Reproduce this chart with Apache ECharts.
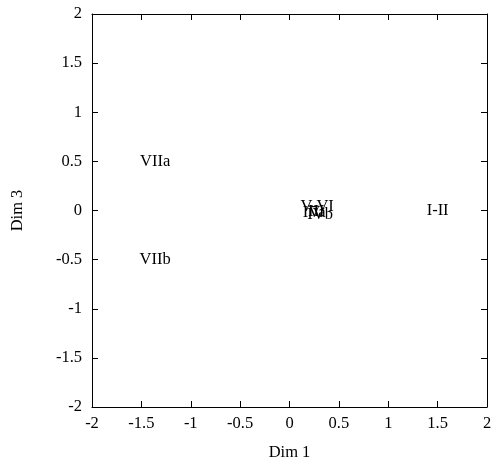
<!DOCTYPE html>
<html><head><meta charset="utf-8">
<script src="https://cdn.jsdelivr.net/npm/echarts@6/dist/echarts.min.js"></script>
<style>html,body{margin:0;padding:0;background:#fff}#c{width:492px;height:462px}</style>
</head><body><div id="c"></div>
<script>
const labels = ['VIIa', 'VIIb', 'I-II', 'V-VI', 'IVa', 'IVb', 'III'];
const dim1 = [-1.36, -1.36, 1.5, 0.28, 0.25, 0.31, 0.27];
const dim3 = [0.5, -0.5, 0, 0.04, -0.02, -0.04, -0.01];
const ticks = [-2, -1.5, -1, -0.5, 0, 0.5, 1, 1.5, 2];

const font = 'Liberation Serif';
const fs = 16.5;
const chart = echarts.init(document.getElementById('c'));
const axisCommon = {
  type: 'value', min: ticks[0], max: ticks[ticks.length - 1], interval: 0.5,
  axisLine: { show: true, onZero: false, lineStyle: { color: '#000', width: 1 } },
  axisTick: { show: true, inside: true, length: 6, lineStyle: { color: '#000' } },
  splitLine: { show: false },
  nameTextStyle: { color: '#000', fontFamily: font, fontSize: fs }
};
chart.setOption({
  animation: false,
  grid: { left: 92, right: 5, top: 14, bottom: 55, containLabel: false, outerBoundsMode: 'none' },
  xAxis: [
    Object.assign({}, axisCommon, {
      position: 'bottom', name: 'Dim 1', nameLocation: 'middle', nameGap: 37,
      axisLabel: { color: '#000', fontFamily: font, fontSize: fs, margin: 8 }
    }),
    Object.assign({}, axisCommon, { position: 'top', axisLabel: { show: false } })
  ],
  yAxis: [
    Object.assign({}, axisCommon, {
      position: 'left', name: 'Dim 3', nameLocation: 'middle', nameGap: 66,
      axisLabel: { color: '#000', fontFamily: font, fontSize: fs, margin: 10 }
    }),
    Object.assign({}, axisCommon, { position: 'right', axisLabel: { show: false } })
  ],
  series: [{
    type: 'scatter', symbolSize: 1, itemStyle: { color: 'rgba(0,0,0,0)' },
    data: labels.map((l, i) => ({ name: l, value: [dim1[i], dim3[i]] })),
    label: {
      show: true, position: 'inside', formatter: p => p.name,
      color: '#000', fontFamily: font, fontSize: fs,
      textBorderWidth: 0, textBorderColor: 'transparent', opacity: 1
    }
  }]
});
</script></body></html>
